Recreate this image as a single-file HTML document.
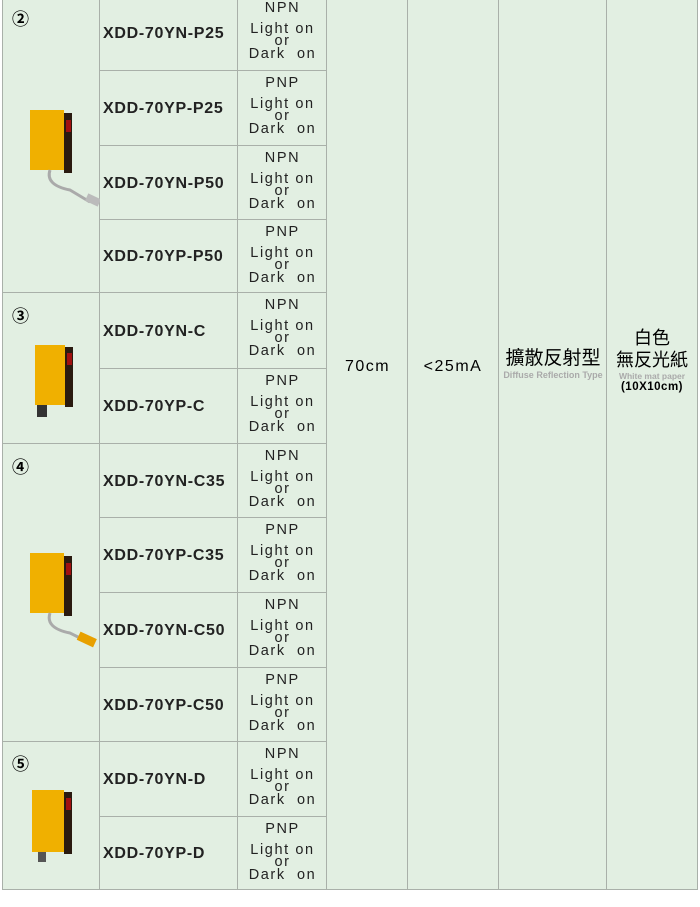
<!DOCTYPE html><html><head><meta charset="utf-8"><style>
body{margin:0;width:700px;height:907px;background:#fff;position:relative;overflow:hidden;font-family:"Liberation Sans","Noto Sans CJK TC",sans-serif}
.c{position:absolute;background:#e2efe2;border:1px solid #a9b0a9;box-sizing:border-box}
.m{position:absolute;left:99px;width:139px;font-weight:bold;font-size:16px;color:#222;padding-left:4px;box-sizing:border-box;display:flex;align-items:center;letter-spacing:0.7px;padding-top:2px}
.t{position:absolute;left:238px;width:89px;text-align:center;font-size:14.5px;color:#222;letter-spacing:1.6px;line-height:12.5px}
.n{position:absolute;left:12px;font-size:17px;font-weight:bold}
</style></head><body>
<div class="c" style="left:2px;top:-5px;width:98px;height:298px"></div>
<div class="c" style="left:2px;top:292px;width:98px;height:152px"></div>
<div class="c" style="left:2px;top:443px;width:98px;height:299px"></div>
<div class="c" style="left:2px;top:741px;width:98px;height:149px"></div>
<div class="c" style="left:326px;top:-5px;width:83px;height:895px"></div>
<div class="c" style="left:407px;top:-5px;width:92px;height:895px"></div>
<div class="c" style="left:498px;top:-5px;width:109px;height:895px"></div>
<div class="c" style="left:606px;top:-5px;width:92px;height:895px"></div>
<div id="rows"></div>
<div class="n" style="top:5px">②</div><div class="n" style="top:302px">③</div><div class="n" style="top:453px">④</div><div class="n" style="top:750px">⑤</div>
<svg style="position:absolute;left:0;top:0" width="100" height="890">
<g transform="translate(30,110)"><rect width="34" height="60" fill="#f0b000"/><rect x="34" y="3" width="8" height="60" fill="#2a1a10"/><rect x="36" y="10" width="5" height="12" fill="#a01010"/><path d="M20 60 Q15 75 40 80 L60 92" stroke="#aaa" stroke-width="3" fill="none"/><rect x="56" y="86" width="14" height="8" fill="#bbb" transform="rotate(25 63 90)"/></g>
<g transform="translate(35,345)"><rect width="30" height="60" fill="#f0b000"/><rect x="30" y="2" width="8" height="60" fill="#2a1a10"/><rect x="32" y="8" width="5" height="12" fill="#a01010"/><rect x="2" y="60" width="10" height="12" fill="#333"/></g>
<g transform="translate(30,553)"><rect width="34" height="60" fill="#f0b000"/><rect x="34" y="3" width="8" height="60" fill="#2a1a10"/><rect x="36" y="10" width="5" height="12" fill="#a01010"/><path d="M20 60 Q15 75 40 80 L60 90" stroke="#aaa" stroke-width="3" fill="none"/><rect x="48" y="82" width="18" height="9" fill="#e8a000" transform="rotate(25 57 86)"/></g>
<g transform="translate(32,790)"><rect width="32" height="62" fill="#f0b000"/><rect x="32" y="2" width="8" height="62" fill="#2a1a10"/><rect x="34" y="8" width="5" height="12" fill="#a01010"/><rect x="6" y="62" width="8" height="10" fill="#555"/></g>
</svg>
<div style="position:absolute;left:327px;width:81px;top:358px;text-align:center;font-size:16px;letter-spacing:1.5px">70cm</div>
<div style="position:absolute;left:408px;width:90px;top:358px;text-align:center;font-size:16px;letter-spacing:1.5px">&lt;25mA</div>
<div style="position:absolute;left:499px;width:108px;top:348px;text-align:center;font-size:19px;line-height:22px">擴散反射型<div style="font-size:9px;font-weight:bold;color:#aaa;line-height:10px;white-space:nowrap">Diffuse Reflection Type</div></div>
<div style="position:absolute;left:607px;width:90px;top:327px;text-align:center;font-size:18px;line-height:22px">白色<br>無反光紙<div style="font-size:8.5px;font-weight:bold;color:#aaa;line-height:10px;margin-top:0px">White mat paper</div><div style="font-size:11.5px;font-weight:bold;line-height:13px;letter-spacing:0.5px">(10X10cm)</div></div>
<script>
var b=[-5,70,145,219,292,368,443,517,592,667,741,816,889];
var m=["XDD-70YN-P25","XDD-70YP-P25","XDD-70YN-P50","XDD-70YP-P50","XDD-70YN-C","XDD-70YP-C","XDD-70YN-C35","XDD-70YP-C35","XDD-70YN-C50","XDD-70YP-C50","XDD-70YN-D","XDD-70YP-D"];
var h="";
for(var i=0;i<12;i++){var t=b[i],hh=b[i+1]-t+1;
h+='<div class="c" style="left:99px;top:'+t+'px;width:140px;height:'+hh+'px"></div><div class="c" style="left:237px;top:'+t+'px;width:90px;height:'+hh+'px"></div>';
h+='<div class="m" style="top:'+t+'px;height:'+hh+'px">'+m[i]+'</div>';
h+='<div class="t" style="top:'+(t+7)+'px">'+(i%2?'PNP':'NPN')+'<div style="margin-top:8px">Light&nbsp;on</div><div>or</div><div>Dark&nbsp;&nbsp;on</div></div>';}
document.getElementById('rows').innerHTML=h;
</script>
</body></html>
